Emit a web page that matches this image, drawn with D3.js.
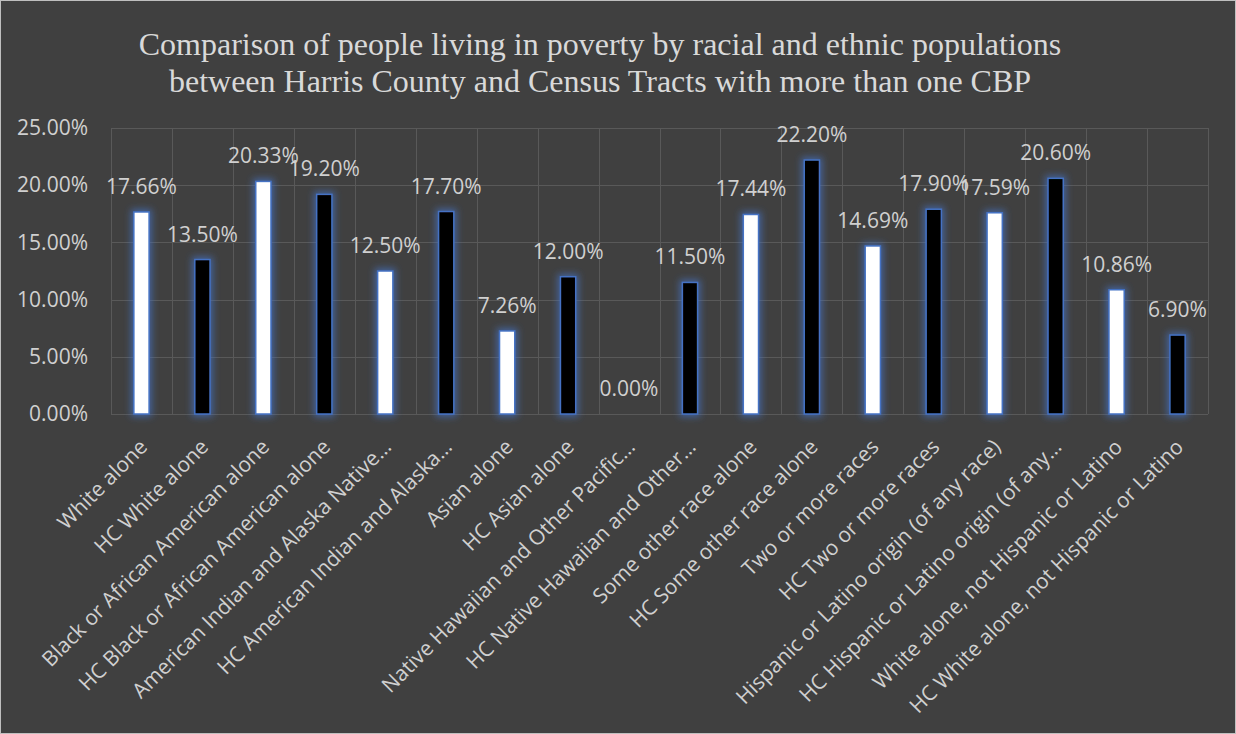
<!DOCTYPE html>
<html><head><meta charset="utf-8">
<script src="https://cdn.jsdelivr.net/npm/d3@7"></script>
<style>body{margin:0;background:#404040;}svg{display:block;}</style>
</head><body>
<svg id="chart" width="1236" height="734"></svg>
<script>
const categories = [
  "White alone","HC White alone","Black or African American alone","HC Black or African American alone",
  "American Indian and Alaska Native…","HC American Indian and Alaska…","Asian alone","HC Asian alone",
  "Native Hawaiian and Other Pacific…","HC Native Hawaiian and Other…","Some other race alone","HC Some other race alone",
  "Two or more races","HC Two or more races","Hispanic or Latino origin (of any race)","HC Hispanic or Latino origin (of any…",
  "White alone, not Hispanic or Latino","HC White alone, not Hispanic or Latino"
];
const values = [17.66,13.50,20.33,19.20,12.50,17.70,7.26,12.00,0.00,11.50,17.44,22.20,14.69,17.90,17.59,20.60,10.86,6.90];
const groups = ["Tracts","HC","Tracts","HC","Tracts","HC","Tracts","HC","Tracts","HC","Tracts","HC","Tracts","HC","Tracts","HC","Tracts","HC"];
const yTicks = [0,5,10,15,20,25];
const titleLines = ["Comparison of people living in poverty by racial and ethnic populations",
                    "between Harris County and Census Tracts with more than one CBP"];

const W = 1236, H = 734;
const m = {left:111, right:1208, top:128, bottom:414};
const svg = d3.select("#chart");
const FONT = "'Open Sans', sans-serif";
const TXT = "#d0d0d0";

svg.append("rect").attr("x",0.5).attr("y",0.5).attr("width",W-1).attr("height",H-1)
  .attr("fill","#404040").attr("stroke","#bfbfbf").attr("stroke-width",1);

const defs = svg.append("defs");
const f = defs.append("filter").attr("id","glow").attr("x","-100%").attr("y","-20%").attr("width","300%").attr("height","140%");
f.append("feMorphology").attr("in","SourceAlpha").attr("operator","dilate").attr("radius",2).attr("result","d");
f.append("feGaussianBlur").attr("in","d").attr("stdDeviation",3.5).attr("result","b");
f.append("feFlood").attr("flood-color","#4472C4").attr("flood-opacity",0.7);
f.append("feComposite").attr("in2","b").attr("operator","in").attr("result","g");
const fm = f.append("feMerge");
fm.append("feMergeNode").attr("in","g");
fm.append("feMergeNode").attr("in","SourceGraphic");

const x = d3.scaleBand().domain(categories).range([m.left,m.right]).paddingInner(0.75).paddingOuter(0.375);
const xb = d3.scaleBand().domain(categories).range([m.left,m.right]).padding(0);
const y = d3.scaleLinear().domain([0,25]).range([m.bottom,m.top]);

// gridlines
const grid = svg.append("g");
grid.selectAll("line.h").data(yTicks).join("line")
  .attr("x1",m.left).attr("x2",m.right).attr("y1",d=>Math.round(y(d))+0.5).attr("y2",d=>Math.round(y(d))+0.5)
  .attr("stroke","#595959").attr("stroke-width",1);
const vb = categories.map(c=>xb(c)).concat([m.right]);
grid.selectAll("line.v").data(vb).join("line")
  .attr("x1",d=>Math.round(d)+0.5).attr("x2",d=>Math.round(d)+0.5).attr("y1",m.top).attr("y2",m.bottom)
  .attr("stroke","#595959").attr("stroke-width",1);

// y axis labels
const yAxis = d3.axisLeft(y).tickValues(yTicks).tickFormat(d=>d.toFixed(2)+"%").tickSize(0).tickPadding(23);
const ya = svg.append("g").attr("transform",`translate(${m.left},0)`).call(yAxis);
ya.select(".domain").remove();
ya.selectAll("text").attr("fill",TXT).attr("font-family",FONT).attr("font-size","21px");

// bars
svg.append("g").selectAll("rect").data(values).join("rect")
  .attr("x",(d,i)=>x(categories[i])).attr("width",x.bandwidth())
  .attr("y",d=>y(d)).attr("height",d=>y(0)-y(d))
  .attr("fill",(d,i)=>groups[i]==="HC"?"#000000":"#ffffff")
  .attr("stroke","#4472C4").attr("stroke-width",1.5)
  .attr("filter",d=>d>0?"url(#glow)":null)
  .attr("opacity",d=>d>0?1:0);

// data labels
svg.append("g").selectAll("text").data(values).join("text")
  .attr("x",(d,i)=>x(categories[i])+x.bandwidth()/2)
  .attr("y",d=>y(d)-18)
  .attr("text-anchor","middle")
  .attr("fill",TXT).attr("font-family",FONT).attr("font-size","21px")
  .text(d=>d.toFixed(2)+"%");

// x labels
const xAxis = d3.axisBottom(xb).tickSize(0).tickPadding(0);
const xa = svg.append("g").attr("transform",`translate(0,${m.bottom})`).call(xAxis);
xa.select(".domain").remove();
xa.selectAll("text")
  .attr("fill",TXT).attr("font-family",FONT).attr("font-size","21px")
  .attr("text-anchor","end").attr("dy",null).attr("y",null)
  .attr("transform","translate(2,29) rotate(-45)")
  .attr("dy","0.35em");

// title
svg.append("g").selectAll("text").data(titleLines).join("text")
  .attr("x",600).attr("y",(d,i)=>55+i*37)
  .attr("text-anchor","middle").attr("fill","#d9d9d9")
  .attr("font-family","'Liberation Serif','Times New Roman',serif").attr("font-size","32px")
  .text(d=>d);
</script>
</body></html>
